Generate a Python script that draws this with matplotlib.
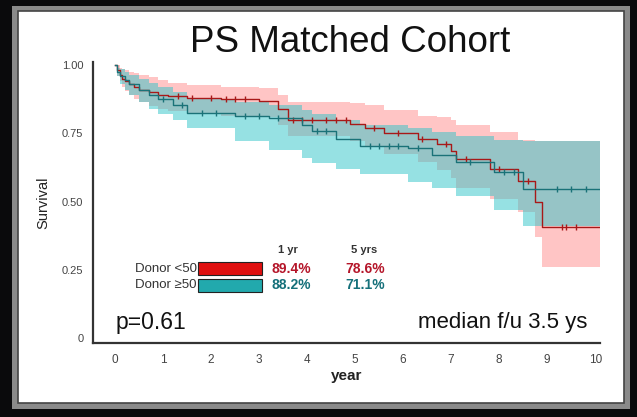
import numpy as np
import matplotlib
matplotlib.use("Agg")
import matplotlib.pyplot as plt
from matplotlib.patches import Rectangle

plt.rcParams['font.family'] = ['Liberation Sans', 'DejaVu Sans']

# ---- data ----
end_time = 10.1
times_r = [0, 0.05, 0.1, 0.15, 0.2, 0.3, 0.4, 0.5, 0.7, 0.9, 1.1, 1.5, 2.2, 3.0, 3.4, 3.6,
           4.9, 5.2, 5.6, 6.3, 6.7, 7.0, 7.1, 7.8, 8.4, 8.75, 8.9]
surv_r = [1.0, 0.98, 0.965, 0.95, 0.94, 0.93, 0.92, 0.91, 0.90, 0.89, 0.885, 0.88, 0.875, 0.87,
          0.84, 0.80, 0.785, 0.77, 0.75, 0.73, 0.71, 0.685, 0.655, 0.62, 0.575, 0.50, 0.405]
upper_r = [1.0, 1.0, 0.99, 0.985, 0.98, 0.975, 0.97, 0.965, 0.955, 0.945, 0.935, 0.925, 0.92,
           0.915, 0.89, 0.865, 0.86, 0.855, 0.835, 0.815, 0.81, 0.80, 0.78, 0.755, 0.725, 0.72, 0.72]
lower_r = [1.0, 0.96, 0.94, 0.92, 0.905, 0.89, 0.875, 0.865, 0.85, 0.84, 0.83, 0.82, 0.815,
           0.81, 0.78, 0.74, 0.72, 0.70, 0.675, 0.645, 0.615, 0.585, 0.55, 0.51, 0.46, 0.37, 0.26]

times_t = [0, 0.05, 0.1, 0.2, 0.3, 0.5, 0.7, 0.9, 1.2, 1.5, 2.5, 3.2, 3.9, 4.1, 4.6, 5.1,
           6.1, 6.6, 7.1, 7.9, 8.5]
surv_t = [1.0, 0.975, 0.96, 0.945, 0.93, 0.91, 0.89, 0.875, 0.855, 0.825, 0.815, 0.805, 0.78,
          0.76, 0.73, 0.705, 0.695, 0.67, 0.645, 0.61, 0.545]
upper_t = [1.0, 0.99, 0.985, 0.975, 0.965, 0.95, 0.935, 0.92, 0.90, 0.875, 0.865, 0.855, 0.835,
           0.82, 0.80, 0.78, 0.77, 0.755, 0.74, 0.725, 0.72]
lower_t = [1.0, 0.96, 0.93, 0.91, 0.89, 0.865, 0.84, 0.82, 0.80, 0.77, 0.72, 0.69, 0.66, 0.64,
           0.62, 0.60, 0.57, 0.55, 0.52, 0.47, 0.41]

censor_r = [1.3, 1.6, 2.0, 2.3, 2.5, 2.7, 3.7, 3.9, 4.1, 4.4, 4.6, 4.8, 5.4, 5.9, 6.4,
            6.9, 7.3, 8.0, 8.6, 9.3, 9.4, 9.6]
censor_t = [1.0, 1.4, 1.8, 2.1, 2.7, 3.0, 3.4, 4.2, 4.4, 5.3, 5.5, 5.7, 5.9, 6.3, 7.4,
            8.1, 8.3, 9.2, 9.5, 9.8]

xticks = list(range(0, 11))
yticks = [0, 0.25, 0.5, 0.75, 1.0]
ytick_labels = ["0", "0.25", "0.50", "0.75", "1.00"]

groups = ["Donor <50", "Donor \u226550"]
yr1 = ["89.4%", "88.2%"]
yr5 = ["78.6%", "71.1%"]

red_line = "#a81818"
red_fill = "#ff8c8c"
teal_line = "#1a7278"
teal_fill = "#2ec4c8"
red_txt = "#b5162a"
teal_txt = "#15707a"

# ---- figure ----
fig = plt.figure(figsize=(6.37, 4.17), dpi=100)
fig.patch.set_facecolor("#0a0a0c")
W, H = 637, 417
fig.patches.append(Rectangle((12 / W, 1 - 409 / H), (630 - 12) / W, (409 - 6) / H,
                             transform=fig.transFigure, facecolor="#8a8a8a",
                             edgecolor="none", zorder=-10))
fig.patches.append(Rectangle((18 / W, 1 - 403 / H), (624 - 18) / W, (403 - 11) / H,
                             transform=fig.transFigure, facecolor="white",
                             edgecolor="#444444", linewidth=1.2, zorder=-9))

ax = fig.add_axes([93 / W, 1 - 343 / H, (600 - 93) / W, (343 - 62) / H])
ax.set_facecolor("none")
ax.set_zorder(5)


def ext(t, v):
    return list(t) + [end_time], list(v) + [v[-1]]


for t, s, lo, hi, lc, fc in [(times_r, surv_r, lower_r, upper_r, red_line, red_fill),
                             (times_t, surv_t, lower_t, upper_t, teal_line, teal_fill)]:
    tt, hh = ext(t, hi)
    _, ll = ext(t, lo)
    ax.fill_between(tt, ll, hh, step="post", color=fc, alpha=0.5, linewidth=0)

for t, s, lc, cens in [(times_r, surv_r, red_line, censor_r),
                       (times_t, surv_t, teal_line, censor_t)]:
    tt, ss = ext(t, s)
    ax.step(tt, ss, where="post", color=lc, linewidth=1.0)
    idx = np.searchsorted(np.array(t), np.array(cens), side="right") - 1
    ax.plot(cens, np.array(s)[idx], linestyle="none", marker="|", markersize=4,
            color=lc, markeredgewidth=1.0)

ax.set_xlim(-0.46, 10.1)
ax.set_ylim(-0.018, 1.011)
ax.set_xticks(xticks)
ax.set_yticks(yticks)
ax.set_yticklabels(ytick_labels)
ax.tick_params(axis="y", length=0, labelsize=8, colors="#444444", pad=7)
ax.tick_params(axis="x", length=0, labelsize=8.5, colors="#444444", pad=8)
for sp in ["top", "right"]:
    ax.spines[sp].set_visible(False)
for sp in ["left", "bottom"]:
    ax.spines[sp].set_color("#333333")
    ax.spines[sp].set_linewidth(1.6)

ax.set_ylabel("Survival", fontsize=10.5, color="#222222", labelpad=8)
ax.set_xlabel("year", fontsize=11, fontweight="bold", color="#222222", labelpad=2)

fig.text(350 / W, 1 - 42 / H, "PS Matched Cohort", fontsize=26.5, ha="center",
         va="center", color="#111111")

# legend-like table
ax.text(0.385, 0.33, "1 yr", transform=ax.transAxes, fontsize=8, fontweight="bold",
        ha="center", va="center", color="#333333")
ax.text(0.535, 0.33, "5 yrs", transform=ax.transAxes, fontsize=8, fontweight="bold",
        ha="center", va="center", color="#333333")
row_y = [0.265, 0.205]
for i, (g, a, b, col, tc) in enumerate(zip(groups, yr1, yr5, [red_line, teal_line],
                                           [red_txt, teal_txt])):
    ax.text(0.205, row_y[i], g, transform=ax.transAxes, fontsize=9.5, ha="right",
            va="center", color="#333333")
    ax.add_patch(Rectangle((0.207, row_y[i] - 0.022), 0.127, 0.044,
                           transform=ax.transAxes,
                           facecolor="#e01010" if i == 0 else "#22a9ad",
                           edgecolor="#222222", linewidth=0.8))
    ax.text(0.392, row_y[i], a, transform=ax.transAxes, fontsize=10, fontweight="bold",
            ha="center", va="center", color=tc)
    ax.text(0.537, row_y[i], b, transform=ax.transAxes, fontsize=10, fontweight="bold",
            ha="center", va="center", color=tc)

ax.text(0.045, 0.072, "p=0.61", transform=ax.transAxes, fontsize=16.5, ha="left",
        va="center", color="#111111")
ax.text(0.975, 0.072, "median f/u 3.5 ys", transform=ax.transAxes, fontsize=16,
        ha="right", va="center", color="#111111")

fig.savefig("out.png", dpi=100, facecolor=fig.get_facecolor())
